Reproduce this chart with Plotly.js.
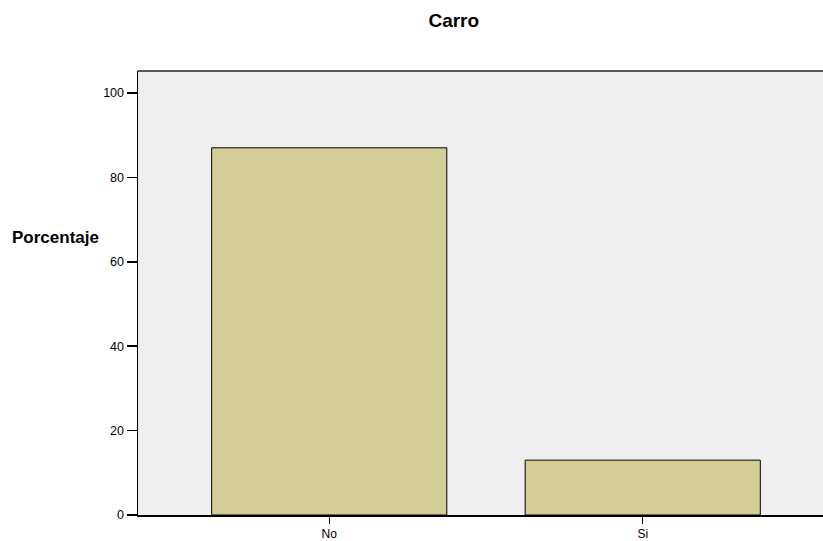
<!DOCTYPE html>
<html>
<head>
<meta charset="utf-8">
<script src="https://cdn.plot.ly/plotly-3.0.1.min.js"></script>
<style>html,body{margin:0;padding:0;background:#fff;}#chart{width:823px;height:541px;}</style>
</head>
<body>
<div id="chart"></div>
<script>
const categories = ["No", "Si"];
const percentages = [87.0, 13.0];
const yTicks = [0, 20, 40, 60, 80, 100];

const trace = {
  type: "bar",
  x: categories,
  y: percentages,
  width: 0.75,
  marker: {color: "#d3ce98", line: {color: "#000000", width: 1}},
  hoverinfo: "x+y"
};

const layout = {
  width: 823, height: 541,
  margin: {l: 138, r: 0, t: 71, b: 25.5, pad: 0},
  paper_bgcolor: "#ffffff",
  plot_bgcolor: "#efefef",
  font: {family: "Liberation Sans, Arial, sans-serif", size: 12, color: "#000"},
  title: {text: "<b>Carro</b>", font: {size: 19, family: "Liberation Sans, Arial, sans-serif", color: "#000"},
          x: 0.461, xref: "paper", xanchor: "center", y: 0.963, yref: "container", yanchor: "middle"},
  xaxis: {
    type: "category", range: [-0.61, 1.575],
    showline: true, linecolor: "#000", linewidth: 1.5,
    ticks: "outside", ticklen: 7, tickcolor: "#000", tickwidth: 1.2,
    showgrid: false, zeroline: false, fixedrange: true,
    tickfont: {size: 12}
  },
  yaxis: {
    range: [0, 105.2],
    tickvals: yTicks, ticktext: yTicks.map(String),
    showline: true, linecolor: "#000", linewidth: 1.5,
    ticks: "outside", ticklen: 10, tickcolor: "#000", tickwidth: 1.5,
    showgrid: false, zeroline: false, fixedrange: true,
    tickfont: {size: 12.5}
  },
  shapes: [{
    type: "line", xref: "paper", yref: "paper", x0: 0, x1: 1, y0: 1, y1: 1,
    line: {color: "#222", width: 1.5}
  }],
  annotations: [{
    text: "<b>Porcentaje</b>", xref: "paper", yref: "paper",
    x: -0.054, y: 0.624, xanchor: "right", yanchor: "middle",
    showarrow: false, font: {size: 17, color: "#000"}
  }],
  showlegend: false,
  bargap: 0.25
};

Plotly.newPlot("chart", [trace], layout, {displayModeBar: false, staticPlot: true});
</script>
</body>
</html>
